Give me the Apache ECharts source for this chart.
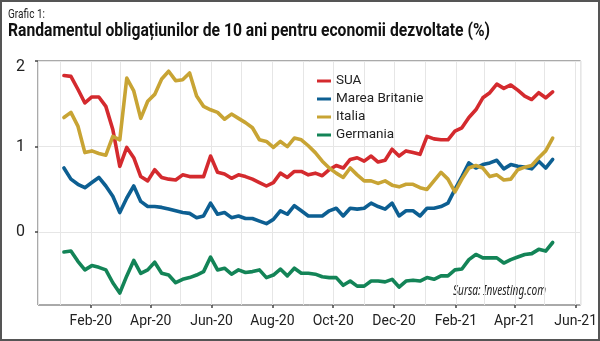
<!DOCTYPE html>
<html>
<head>
<meta charset="utf-8">
<script src="https://cdn.jsdelivr.net/npm/echarts@6/dist/echarts.min.js"></script>
<style>
  html, body { margin: 0; padding: 0; background: #fff; }
  #chart { width: 600px; height: 341px; }
</style>
</head>
<body>
<div id="chart"></div>
<script>
// Weekly 10-year government bond yields (%), first observation on 5 Jan 2020
const firstWeek = [2020, 0, 5];
const seriesNames = ['SUA', 'Marea Britanie', 'Italia', 'Germania'];

const sua = [
  1.83, 1.82, 1.67, 1.51, 1.58, 1.58, 1.47, 1.20, 0.77, 0.99,
  0.87, 0.65, 0.60, 0.73, 0.64, 0.62, 0.61, 0.67, 0.65, 0.65,
  0.65, 0.89, 0.70, 0.68, 0.63, 0.67, 0.65, 0.62, 0.58, 0.54,
  0.58, 0.69, 0.64, 0.71, 0.71, 0.67, 0.69, 0.66, 0.73, 0.78,
  0.75, 0.85, 0.87, 0.83, 0.89, 0.82, 0.84, 0.97, 0.89, 0.95,
  0.93, 0.91, 1.12, 1.09, 1.08, 1.08, 1.18, 1.22, 1.34, 1.43,
  1.57, 1.63, 1.73, 1.68, 1.72, 1.66, 1.59, 1.55, 1.63, 1.57,
  1.64
];
const mareaBritanie = [
  0.75, 0.62, 0.56, 0.52, 0.58, 0.64, 0.54, 0.42, 0.23, 0.40,
  0.54, 0.36, 0.30, 0.30, 0.29, 0.27, 0.25, 0.23, 0.22, 0.17,
  0.19, 0.34, 0.21, 0.23, 0.17, 0.19, 0.16, 0.16, 0.13, 0.10,
  0.15, 0.25, 0.21, 0.31, 0.25, 0.19, 0.19, 0.19, 0.25, 0.28,
  0.19, 0.28, 0.27, 0.28, 0.34, 0.30, 0.27, 0.34, 0.19, 0.25,
  0.25, 0.19, 0.28, 0.28, 0.30, 0.34, 0.50, 0.65, 0.81, 0.75,
  0.79, 0.81, 0.84, 0.74, 0.79, 0.77, 0.76, 0.74, 0.83, 0.75,
  0.85
];
const italia = [
  1.34, 1.40, 1.24, 0.93, 0.95, 0.92, 0.90, 1.12, 1.08, 1.80,
  1.65, 1.33, 1.53, 1.61, 1.79, 1.88, 1.77, 1.78, 1.86, 1.59,
  1.47, 1.43, 1.40, 1.32, 1.38, 1.33, 1.28, 1.22, 1.08, 1.06,
  0.99, 1.06, 1.00, 1.10, 1.08, 1.01, 0.93, 0.83, 0.75, 0.69,
  0.64, 0.75, 0.67, 0.60, 0.60, 0.57, 0.60, 0.55, 0.53, 0.56,
  0.56, 0.52, 0.50, 0.60, 0.70, 0.62, 0.47, 0.62, 0.75, 0.78,
  0.75, 0.65, 0.67, 0.61, 0.62, 0.73, 0.76, 0.78, 0.87, 0.95,
  1.10
];
const germania = [
  -0.23, -0.22, -0.34, -0.44, -0.39, -0.41, -0.44, -0.59, -0.71, -0.51,
  -0.33, -0.48, -0.44, -0.35, -0.48, -0.50, -0.59, -0.55, -0.53, -0.50,
  -0.46, -0.29, -0.44, -0.42, -0.49, -0.44, -0.47, -0.46, -0.44, -0.53,
  -0.50, -0.43, -0.51, -0.42, -0.48, -0.48, -0.49, -0.52, -0.53, -0.53,
  -0.62, -0.57, -0.63, -0.63, -0.57, -0.57, -0.58, -0.55, -0.64, -0.57,
  -0.56, -0.57, -0.53, -0.55, -0.51, -0.51, -0.44, -0.43, -0.32, -0.26,
  -0.30, -0.30, -0.30, -0.36, -0.32, -0.29, -0.26, -0.25, -0.20, -0.22,
  -0.12
];

const xTickDates = ['2020-02-01', '2020-04-01', '2020-06-01', '2020-08-01', '2020-10-01',
                    '2020-12-01', '2021-02-01', '2021-04-01', '2021-06-01'];
const xTickLabels = ['Feb-20', 'Apr-20', 'Jun-20', 'Aug-20', 'Oct-20',
                     'Dec-20', 'Feb-21', 'Apr-21', 'Jun-21'];
const yTickValues = [0, 1, 2];

const colors = ['#d42a2e', '#0d5f92', '#c8a434', '#138457'];
const FONT = 'Roboto, "Noto Sans", sans-serif';

function dayStamp(s) {
  const p = s.split('-').map(Number);
  return new Date(p[0], p[1] - 1, p[2]).getTime();
}
function weekStamp(i) {
  return new Date(firstWeek[0], firstWeek[1], firstWeek[2] + 7 * i).getTime();
}
function pairs(values) {
  return values.map((v, i) => [weekStamp(i), v]);
}

// horizontal squeeze so a line of text occupies the given width (condensed look)
const measureCtx = document.createElement('canvas').getContext('2d');
function squeeze(text, font, width) {
  measureCtx.font = font;
  return width / measureCtx.measureText(text).width;
}
function condensedText(text, font, x, y, width, fill) {
  return {
    type: 'text', x: x, y: y, scaleX: squeeze(text, font, width),
    style: { text: text, font: font, fill: fill, textVerticalAlign: 'top' }
  };
}

const xMin = dayStamp('2019-12-10');
const xMax = dayStamp('2021-06-06');
const tickStamps = xTickDates.map(dayStamp);
const labelByStamp = {};
tickStamps.forEach((t, i) => { labelByStamp[t] = xTickLabels[i]; });

const allSeries = [sua, mareaBritanie, italia, germania];

const titleText = 'Randamentul obligațiunilor de 10 ani pentru economii dezvoltate (%)';
const fontTitle = 'bold 19px ' + FONT;
const fontSub = '13px ' + FONT;
const fontSource = 'italic 14px "Noto Sans", "Open Sans", sans-serif';

const chart = echarts.init(document.getElementById('chart'), null, { renderer: 'canvas' });
chart.setOption({
  animation: false,
  backgroundColor: '#ffffff',
  color: colors,
  textStyle: { fontFamily: FONT },
  grid: { left: 38, top: 61, right: 17, bottom: 36, show: true,
          borderColor: '#555', borderWidth: 1, containLabel: false },
  legend: {
    orient: 'vertical', left: 312, top: 69,
    itemWidth: 14, itemHeight: 3, itemGap: 4,
    icon: 'rect',
    textStyle: { fontFamily: FONT, fontSize: 13.5, color: '#222' },
    data: seriesNames
  },
  xAxis: [
    {
      // month-by-month grid
      type: 'time',
      min: xMin, max: xMax,
      splitNumber: 18,
      minInterval: 27 * 86400000,
      maxInterval: 32 * 86400000,
      axisLine: { show: false },
      axisTick: { show: false },
      axisLabel: { show: false },
      splitLine: { show: true, lineStyle: { color: '#e6e6e6', width: 1 } }
    },
    {
      // labelled ticks every two months
      type: 'value',
      min: xMin, max: xMax,
      position: 'bottom',
      axisLine: { show: false },
      axisTick: { show: true, customValues: tickStamps, length: 3, lineStyle: { color: '#444', width: 1.5 } },
      axisLabel: {
        customValues: tickStamps,
        formatter: v => labelByStamp[v] || '',
        fontFamily: FONT, fontSize: 14, color: '#222', margin: 9
      },
      splitLine: { show: false }
    }
  ],
  yAxis: {
    type: 'value',
    min: -0.85, max: 2,
    splitNumber: 6,
    axisLine: { show: false },
    axisTick: { show: true, customValues: yTickValues, length: 3, lineStyle: { color: '#444', width: 1.5 } },
    axisLabel: {
      customValues: yTickValues,
      formatter: v => (v === 2 ? '{top|2}' : String(v)),
      rich: { top: { padding: [11, 0, 0, 0], fontSize: 16, fontFamily: FONT, color: '#222' } },
      fontFamily: FONT, fontSize: 16, color: '#222', margin: 13
    },
    splitLine: { show: true, lineStyle: { color: '#e6e6e6', width: 1 } }
  },
  series: seriesNames.map((name, k) => ({
    name: name,
    type: 'line',
    xAxisIndex: 0,
    data: pairs(allSeries[k]),
    showSymbol: false,
    symbol: 'none',
    lineStyle: { width: 3.6, color: colors[k], join: 'round', cap: 'round' },
    itemStyle: { color: colors[k] }
  })),
  graphic: [
    { type: 'rect', shape: { x: 1, y: 1, width: 598, height: 339 },
      style: { fill: 'none', stroke: '#555', lineWidth: 2 }, silent: true, z: 100 },
    condensedText('Grafic 1:', fontSub, 8, 8, 37, '#222'),
    condensedText(titleText, fontTitle, 8, 22, 482, '#111'),
    condensedText('Sursa: Investing.com', fontSource, 453, 284, 93, '#222')
  ]
});
</script>
</body>
</html>
